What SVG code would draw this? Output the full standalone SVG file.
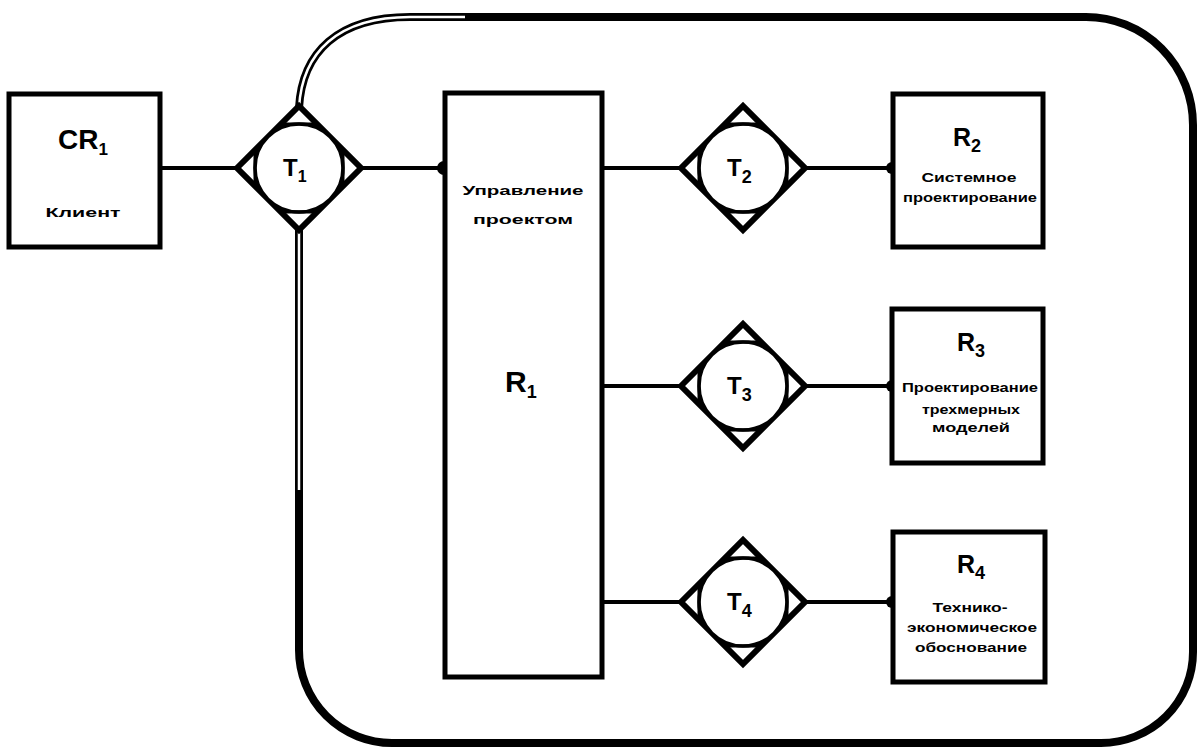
<svg xmlns="http://www.w3.org/2000/svg" xmlns:xlink="http://www.w3.org/1999/xlink" width="1201" height="749" viewBox="0 0 1201 749">
<style>
.box{fill:#fff;stroke:#000;stroke-width:5}
.ln{stroke:#000;stroke-width:4;fill:none}
.big{font-family:"Liberation Sans",Arial,sans-serif;font-weight:bold;fill:#000}
.t{font-family:"Liberation Sans",Arial,sans-serif;font-weight:bold;fill:#000}
.sm{font-family:"Liberation Sans",Arial,sans-serif;font-weight:bold;font-size:12px;fill:#000;text-anchor:middle}
.dot{fill:#000}
</style>
<defs>
<g id="tsym">
<polygon points="-62,0 0,-62 62,0 0,62" fill="#fff" stroke="#000" stroke-width="6" stroke-linejoin="miter"/>
<circle r="44" fill="#fff" stroke="#000" stroke-width="3.5"/>
<path d="M-17,-44 H17 M-17,44 H17 M-44,-17 V17 M44,-17 V17" stroke="#000" stroke-width="3"/>
</g>
</defs>
<rect width="1201" height="749" fill="#fff"/>
<g id="boundary">
<path d="M299,108 C302,52 338,17 410,17 L1086,17 A107,108 0 0 1 1193,125 L1193,652 A92,91 0 0 1 1101,743 L392,743 A93,93 0 0 1 299,650 L299,228" fill="none" stroke="#000" stroke-width="8"/>
<path d="M299,108 C302,52 338,17 410,17 L465,17" fill="none" stroke="#fff" stroke-width="2.5"/>
<path d="M299,232 L299,490" fill="none" stroke="#fff" stroke-width="2.5"/>
</g>
<g id="connectors">
<path class="ln" d="M160,168 H237 M361,168 H444 M602,168 H681 M805,168 H892 M602,386 H681 M805,386 H892 M602,602 H681 M805,602 H892"/>
<circle class="dot" cx="444" cy="168" r="7"/>
<circle class="dot" cx="892" cy="168" r="6"/>
<circle class="dot" cx="892" cy="386" r="6"/>
<circle class="dot" cx="892" cy="602" r="6"/>
</g>
<g id="CR1">
<rect class="box" x="9" y="94" width="151" height="153"/>
<text class="big" x="58" y="149" font-size="28">CR<tspan font-size="17" dy="6">1</tspan></text>
<text class="sm" x="83" y="217" font-size="13" textLength="75" lengthAdjust="spacingAndGlyphs">Клиент</text>
</g>
<g id="T1">
<use xlink:href="#tsym" transform="translate(299,168)"/>
<text class="t" x="283" y="176" font-size="24">T<tspan font-size="16" dy="6">1</tspan></text>
</g>
<g id="R1">
<rect class="box" x="445" y="93" width="157" height="584"/>
<text class="sm" x="523" y="195" font-size="14" textLength="121" lengthAdjust="spacingAndGlyphs">Управление</text>
<text class="sm" x="523" y="224" font-size="14" textLength="100" lengthAdjust="spacingAndGlyphs">проектом</text>
<text class="big" x="505" y="392" font-size="30">R<tspan font-size="18" dy="6">1</tspan></text>
</g>
<g id="T2">
<use xlink:href="#tsym" transform="translate(743,168)"/>
<text class="t" x="727" y="176" font-size="24">T<tspan font-size="18" dy="7">2</tspan></text>
</g>
<g id="T3">
<use xlink:href="#tsym" transform="translate(743,386)"/>
<text class="t" x="727" y="394" font-size="24">T<tspan font-size="18" dy="7">3</tspan></text>
</g>
<g id="T4">
<use xlink:href="#tsym" transform="translate(743,602)"/>
<text class="t" x="727" y="610" font-size="24">T<tspan font-size="18" dy="7">4</tspan></text>
</g>
<g id="R2">
<rect class="box" x="893" y="94" width="150" height="153"/>
<text class="t" x="953" y="146" font-size="25">R<tspan font-size="18" dy="6">2</tspan></text>
<text class="sm" x="969" y="182" textLength="95" lengthAdjust="spacingAndGlyphs">Системное</text>
<text class="sm" x="970" y="202" textLength="134" lengthAdjust="spacingAndGlyphs">проектирование</text>
</g>
<g id="R3">
<rect class="box" x="892" y="309" width="151" height="154"/>
<text class="t" x="957" y="351" font-size="25">R<tspan font-size="18" dy="6">3</tspan></text>
<text class="sm" x="970" y="392" textLength="136" lengthAdjust="spacingAndGlyphs">Проектирование</text>
<text class="sm" x="971" y="414" textLength="98" lengthAdjust="spacingAndGlyphs">трехмерных</text>
<text class="sm" x="971" y="432" textLength="78" lengthAdjust="spacingAndGlyphs">моделей</text>
</g>
<g id="R4">
<rect class="box" x="893" y="532" width="152" height="150"/>
<text class="t" x="957" y="573" font-size="25">R<tspan font-size="18" dy="6">4</tspan></text>
<text class="sm" x="970" y="612" textLength="75" lengthAdjust="spacingAndGlyphs">Технико-</text>
<text class="sm" x="972" y="632" textLength="130" lengthAdjust="spacingAndGlyphs">экономическое</text>
<text class="sm" x="971" y="652" textLength="112" lengthAdjust="spacingAndGlyphs">обоснование</text>
</g>
</svg>
